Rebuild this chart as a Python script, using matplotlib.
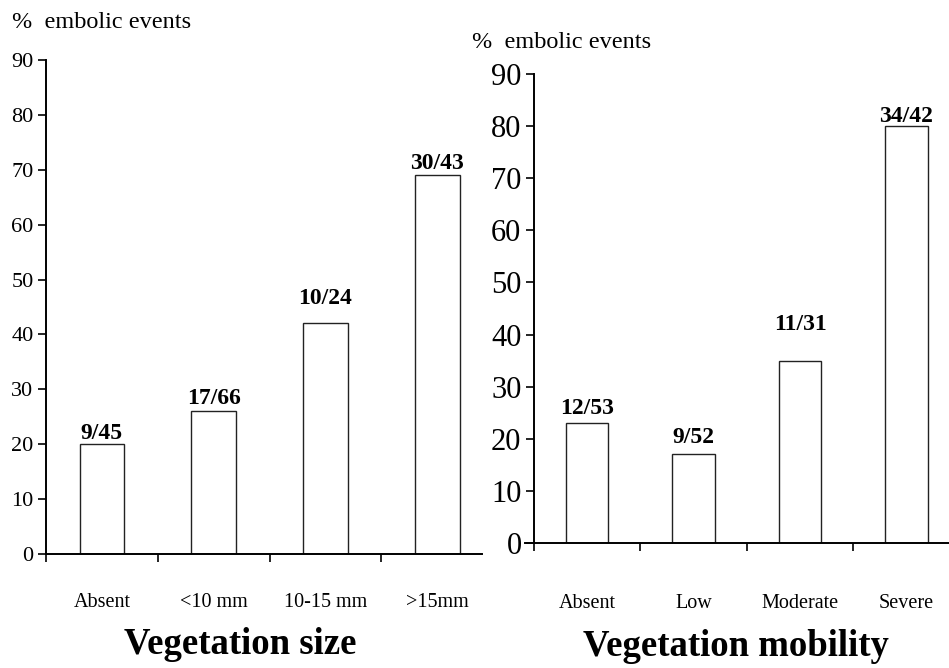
import matplotlib
matplotlib.use("Agg")
import matplotlib.pyplot as plt
import numpy as np

# data
size_cats = ["Absent", "<10 mm", "10-15 mm", ">15mm"]
size_pct = [20, 26, 42, 69]
size_lbl = ["9/45", "17/66", "10/24", "30/43"]

mob_cats = ["Absent", "Low", "Moderate", "Severe"]
mob_pct = [23, 17, 35, 80]
mob_lbl = ["12/53", "9/52", "11/31", "34/42"]

plt.rcParams['font.family'] = ['Liberation Serif', 'DejaVu Serif']

fig = plt.figure(figsize=(9.49, 6.68), dpi=100)
W, H = 949.0, 668.0


def px_axes(x0, y0, x1, y1):
    # pixel box (top-left origin) -> figure fraction
    return fig.add_axes([x0 / W, 1 - y1 / H, (x1 - x0) / W, (y1 - y0) / H])


def panel(ax, cats, vals, labels, offs, tick_fs, lbl_fs, cat_fs, cat_pad, tpad):
    x = np.arange(len(cats))
    ax.bar(x, vals, width=0.4, color="white", edgecolor="#222222", linewidth=1.0)
    for xi, v, t, o in zip(x, vals, labels, offs):
        ax.text(xi, v + o, t, ha="center", va="center", fontsize=lbl_fs,
                fontweight="bold")
    ax.set_ylim(0, 90)
    ax.set_xlim(-0.5, 3.4)
    ax.set_yticks(range(0, 91, 10))
    ax.tick_params(axis="y", direction="out", length=6, width=1.2,
                   labelsize=tick_fs, pad=tpad)
    ax.set_xticks(np.arange(len(cats)) - 0.5)
    ax.set_xticklabels([])
    ax.tick_params(axis="x", which="major", direction="out", length=6, width=1.2)
    ax.set_xticks(x, minor=True)
    ax.set_xticklabels(cats, minor=True, fontsize=cat_fs)
    ax.tick_params(axis="x", which="minor", length=0, pad=cat_pad)
    for s in ["top", "right"]:
        ax.spines[s].set_visible(False)
    for s in ["left", "bottom"]:
        ax.spines[s].set_linewidth(1.4)
    ax.patch.set_alpha(0)


ax1 = px_axes(46, 60, 482, 554)
panel(ax1, size_cats, size_pct, size_lbl, [2.0, 2.4, 4.6, 2.2], 16, 17, 14.5, 28, 3)

ax2 = px_axes(534, 74, 949, 543)
panel(ax2, mob_cats, mob_pct, mob_lbl, [2.8, 3.3, 7.0, 1.8], 22, 17, 14.5, 37, 3)
ax2.spines["bottom"].set_bounds(-0.58, 3.4)
ax2.spines["bottom"].set_clip_on(False)

fig.text(12 / W, 1 - 22 / H, "%  embolic events", fontsize=17.5, va="center")
fig.text(472 / W, 1 - 42 / H, "%  embolic events", fontsize=17.5, va="center")

fig.text(240 / W, 1 - 645 / H, "Vegetation size", fontsize=26.5,
         fontweight="bold", ha="center", va="center")
fig.text(736 / W, 1 - 647 / H, "Vegetation mobility", fontsize=26.5,
         fontweight="bold", ha="center", va="center")

fig.savefig("out.png", dpi=100)
